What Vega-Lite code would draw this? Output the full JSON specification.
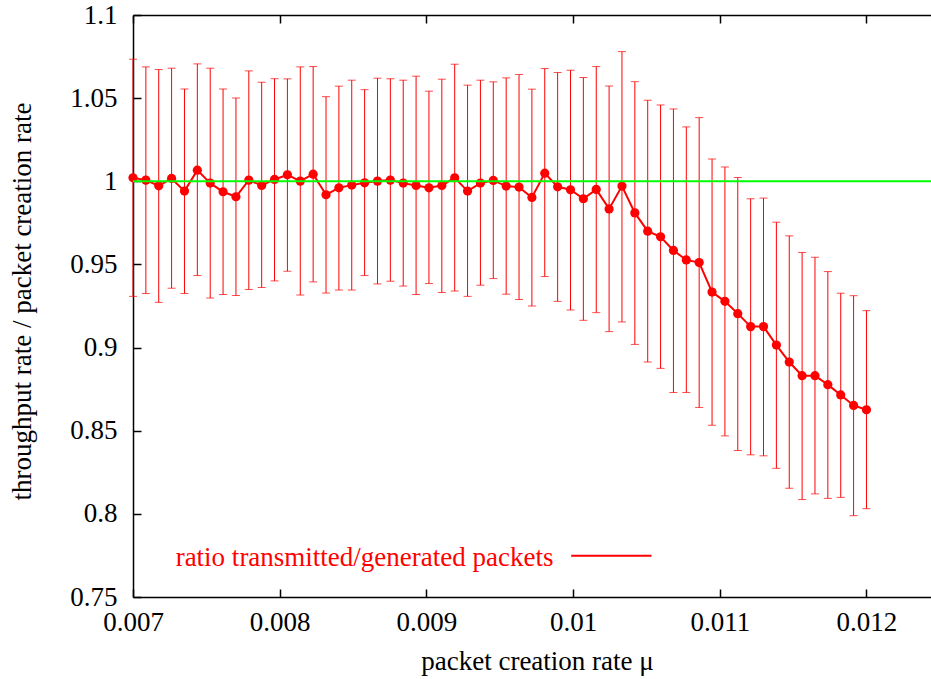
{
  "$schema": "https://vega.github.io/schema/vega-lite/v6.json",
  "width": 798,
  "height": 582,
  "autosize": "none",
  "padding": {"left": 133, "top": 15, "right": 0, "bottom": 82},
  "background": "white",
  "config": {
    "view": {"stroke": null},
    "axis": {
      "labelFont": "Liberation Serif", "labelFontSize": 27, "labelColor": "black",
      "titleFont": "Liberation Serif", "titleFontSize": 27, "titleFontWeight": "normal", "titleColor": "black",
      "domainColor": "black", "domainWidth": 1.5, "tickColor": "black", "tickWidth": 1.5,
      "tickSize": -8, "grid": false, "labelFlush": false, "labelOverlap": false
    }
  },
  "datasets": {
    "pts": [
      {"x": 0.0070000, "y": 1.0021, "lo": 0.9308, "hi": 1.0734},
      {"x": 0.0070877, "y": 1.0007, "lo": 0.9325, "hi": 1.0688},
      {"x": 0.0071754, "y": 0.9973, "lo": 0.9272, "hi": 1.0672},
      {"x": 0.0072632, "y": 1.0017, "lo": 0.9357, "hi": 1.0680},
      {"x": 0.0073509, "y": 0.9941, "lo": 0.9325, "hi": 1.0555},
      {"x": 0.0074386, "y": 1.0067, "lo": 0.9433, "hi": 1.0706},
      {"x": 0.0075263, "y": 0.9989, "lo": 0.9298, "hi": 1.0680},
      {"x": 0.0076140, "y": 0.9937, "lo": 0.9319, "hi": 1.0555},
      {"x": 0.0077018, "y": 0.9907, "lo": 0.9313, "hi": 1.0501},
      {"x": 0.0077895, "y": 1.0007, "lo": 0.9349, "hi": 1.0664},
      {"x": 0.0078772, "y": 0.9975, "lo": 0.9361, "hi": 1.0596},
      {"x": 0.0079649, "y": 1.0011, "lo": 0.9401, "hi": 1.0617},
      {"x": 0.0080526, "y": 1.0039, "lo": 0.9459, "hi": 1.0616},
      {"x": 0.0081404, "y": 1.0001, "lo": 0.9316, "hi": 1.0688},
      {"x": 0.0082281, "y": 1.0043, "lo": 0.9395, "hi": 1.0690},
      {"x": 0.0083158, "y": 0.9919, "lo": 0.9328, "hi": 1.0509},
      {"x": 0.0084035, "y": 0.9961, "lo": 0.9346, "hi": 1.0572},
      {"x": 0.0084912, "y": 0.9977, "lo": 0.9346, "hi": 1.0608},
      {"x": 0.0085789, "y": 0.9991, "lo": 0.9433, "hi": 1.0551},
      {"x": 0.0086667, "y": 1.0001, "lo": 0.9383, "hi": 1.0620},
      {"x": 0.0087544, "y": 1.0007, "lo": 0.9399, "hi": 1.0617},
      {"x": 0.0088421, "y": 0.9989, "lo": 0.9370, "hi": 1.0608},
      {"x": 0.0089298, "y": 0.9975, "lo": 0.9319, "hi": 1.0632},
      {"x": 0.0090175, "y": 0.9961, "lo": 0.9385, "hi": 1.0542},
      {"x": 0.0091053, "y": 0.9975, "lo": 0.9331, "hi": 1.0614},
      {"x": 0.0091930, "y": 1.0021, "lo": 0.9340, "hi": 1.0704},
      {"x": 0.0092807, "y": 0.9941, "lo": 0.9308, "hi": 1.0578},
      {"x": 0.0093684, "y": 0.9989, "lo": 0.9375, "hi": 1.0608},
      {"x": 0.0094561, "y": 1.0005, "lo": 0.9415, "hi": 1.0598},
      {"x": 0.0095439, "y": 0.9971, "lo": 0.9321, "hi": 1.0622},
      {"x": 0.0096316, "y": 0.9965, "lo": 0.9289, "hi": 1.0642},
      {"x": 0.0097193, "y": 0.9903, "lo": 0.9250, "hi": 1.0554},
      {"x": 0.0098070, "y": 1.0049, "lo": 0.9427, "hi": 1.0678},
      {"x": 0.0098947, "y": 0.9967, "lo": 0.9278, "hi": 1.0654},
      {"x": 0.0099825, "y": 0.9949, "lo": 0.9226, "hi": 1.0668},
      {"x": 0.0100702, "y": 0.9895, "lo": 0.9164, "hi": 1.0624},
      {"x": 0.0101579, "y": 0.9951, "lo": 0.9210, "hi": 1.0690},
      {"x": 0.0102456, "y": 0.9834, "lo": 0.9096, "hi": 1.0573},
      {"x": 0.0103333, "y": 0.9971, "lo": 0.9154, "hi": 1.0780},
      {"x": 0.0104211, "y": 0.9810, "lo": 0.9019, "hi": 1.0599},
      {"x": 0.0105088, "y": 0.9700, "lo": 0.8913, "hi": 1.0487},
      {"x": 0.0105965, "y": 0.9666, "lo": 0.8875, "hi": 1.0459},
      {"x": 0.0106842, "y": 0.9584, "lo": 0.8730, "hi": 1.0435},
      {"x": 0.0107719, "y": 0.9527, "lo": 0.8730, "hi": 1.0327},
      {"x": 0.0108596, "y": 0.9511, "lo": 0.8640, "hi": 1.0383},
      {"x": 0.0109474, "y": 0.9334, "lo": 0.8533, "hi": 1.0134},
      {"x": 0.0110351, "y": 0.9278, "lo": 0.8469, "hi": 1.0086},
      {"x": 0.0111228, "y": 0.9204, "lo": 0.8381, "hi": 1.0023},
      {"x": 0.0112105, "y": 0.9126, "lo": 0.8355, "hi": 0.9895},
      {"x": 0.0112982, "y": 0.9126, "lo": 0.8349, "hi": 0.9899},
      {"x": 0.0113860, "y": 0.9015, "lo": 0.8274, "hi": 0.9754},
      {"x": 0.0114737, "y": 0.8913, "lo": 0.8154, "hi": 0.9672},
      {"x": 0.0115614, "y": 0.8831, "lo": 0.8086, "hi": 0.9572},
      {"x": 0.0116491, "y": 0.8831, "lo": 0.8120, "hi": 0.9543},
      {"x": 0.0117368, "y": 0.8777, "lo": 0.8093, "hi": 0.9457},
      {"x": 0.0118246, "y": 0.8715, "lo": 0.8099, "hi": 0.9327},
      {"x": 0.0119123, "y": 0.8652, "lo": 0.7989, "hi": 0.9312},
      {"x": 0.0120000, "y": 0.8626, "lo": 0.8031, "hi": 0.9222}
    ],
    "legendText": [{"label": "ratio transmitted/generated packets", "x": 0.0098665, "y": 0.7688}],
    "legendLine": [{"x": 0.0099870, "x2": 0.0105345, "y": 0.7748}]
  },
  "layer": [
    {
      "data": {"name": "pts"},
      "mark": {"type": "rule", "color": "#ff0000", "strokeWidth": 1},
      "encoding": {
        "x": {
          "field": "x", "type": "quantitative",
          "scale": {"domain": [0.007, 0.01244], "nice": false, "zero": false},
          "axis": {
            "orient": "bottom", "values": [0.007, 0.008, 0.009, 0.01, 0.011, 0.012],
            "labelExpr": "format(datum.value, '~g')", "labelPadding": 20,
            "labelFont": "Liberation Serif", "labelFontSize": 27, "labelColor": "black",
            "tickSize": -8, "tickWidth": 1.5, "tickColor": "black",
            "title": "packet creation rate μ", "titleBaseline": "alphabetic", "titleY": 72, "titleX": 404,
            "titleFont": "Liberation Serif", "titleFontSize": 27, "titleFontWeight": "normal"
          }
        },
        "y": {
          "field": "lo", "type": "quantitative",
          "scale": {"domain": [0.75, 1.1], "nice": false, "zero": false},
          "axis": {
            "orient": "left", "values": [0.75, 0.8, 0.85, 0.9, 0.95, 1, 1.05, 1.1],
            "labelExpr": "format(datum.value, '~g')", "labelPadding": 24,
            "labelFont": "Liberation Serif", "labelFontSize": 27, "labelColor": "black",
            "tickSize": -8, "tickWidth": 1.5, "tickColor": "black",
            "title": "throughput rate / packet creation rate", "titleBaseline": "alphabetic",
            "titleX": -103, "titleY": 286,
            "titleFont": "Liberation Serif", "titleFontSize": 27, "titleFontWeight": "normal"
          }
        },
        "y2": {"field": "hi"}
      }
    },
    {
      "data": {"name": "pts"},
      "mark": {"type": "tick", "color": "#ff0000", "orient": "horizontal", "size": 8, "thickness": 1},
      "encoding": {
        "x": {"field": "x", "type": "quantitative", "axis": null},
        "y": {"field": "lo", "type": "quantitative"}
      }
    },
    {
      "data": {"name": "pts"},
      "mark": {"type": "tick", "color": "#ff0000", "orient": "horizontal", "size": 8, "thickness": 1},
      "encoding": {
        "x": {"field": "x", "type": "quantitative", "axis": null},
        "y": {"field": "hi", "type": "quantitative"}
      }
    },
    {
      "data": {"name": "pts"},
      "mark": {"type": "line", "color": "#ff0000", "strokeWidth": 2},
      "encoding": {
        "x": {
          "field": "x", "type": "quantitative",
          "axis": {"orient": "top", "values": [0.007, 0.008, 0.009, 0.01, 0.011, 0.012], "labels": false, "title": null,
                   "tickSize": -8, "tickWidth": 1.5, "tickColor": "black"}
        },
        "y": {"field": "y", "type": "quantitative"}
      }
    },
    {
      "data": {"name": "pts"},
      "mark": {"type": "point", "filled": true, "color": "#ff0000", "size": 85, "opacity": 1},
      "encoding": {
        "x": {"field": "x", "type": "quantitative", "axis": null},
        "y": {"field": "y", "type": "quantitative"}
      }
    },
    {
      "data": {"values": [{}]},
      "mark": {"type": "rule", "color": "#00ff00", "strokeWidth": 2},
      "encoding": {"y": {"datum": 1}}
    },
    {
      "data": {"name": "legendText"},
      "mark": {"type": "text", "color": "#ff0000", "font": "Liberation Serif", "fontSize": 27, "align": "right", "baseline": "alphabetic"},
      "encoding": {
        "x": {"field": "x", "type": "quantitative", "axis": null},
        "y": {"field": "y", "type": "quantitative"},
        "text": {"field": "label"}
      }
    },
    {
      "data": {"name": "legendLine"},
      "mark": {"type": "rule", "color": "#ff0000", "strokeWidth": 2},
      "encoding": {
        "x": {"field": "x", "type": "quantitative", "axis": null},
        "x2": {"field": "x2"},
        "y": {"field": "y", "type": "quantitative"}
      }
    }
  ],
  "resolve": {"axis": {"x": "independent"}}
}
